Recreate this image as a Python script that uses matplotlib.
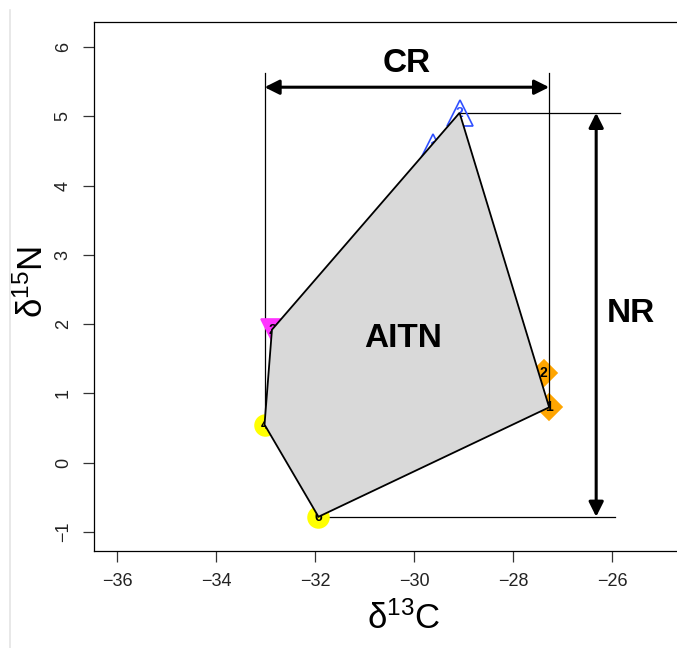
import matplotlib
matplotlib.use("Agg")
import matplotlib.pyplot as plt
from matplotlib.lines import Line2D
from matplotlib.patches import Polygon

plt.rcParams['font.family'] = ['Liberation Sans', 'DejaVu Sans']

# Isotope data for each species (d13C, d15N)
d13c = [-27.27, -27.38, -29.08, -29.62, -32.87, -33.02, -31.93]
d15n = [0.80, 1.30, 5.05, 4.55, 1.92, 0.55, -0.78]
labels = ['1', '2', '2', '1', '2', '4', '6']
markers = ['D', 'D', '^', '^', 'v', 'o', 'o']
facecolors = ['#FFA500', '#FFA500', 'none', 'none', '#FF33FF', '#FFFF00', '#FFFF00']
edgecolors = ['#FFA500', '#FFA500', '#3050FF', '#3050FF', '#FF33FF', '#FFFF00', '#FFFF00']
label_colors = ['black', 'black', '#3050FF', '#3050FF', 'black', 'black', 'black']
sizes = [13, 13, 19, 19, 16, 15, 15]

# Convex hull vertices (index into the point arrays)
hull_idx = [2, 0, 6, 5, 4]

xticks = [-36, -34, -32, -30, -28, -26]
yticks = [-1, 0, 1, 2, 3, 4, 5, 6]

W, H = 677, 648
fig = plt.figure(figsize=(W / 100, H / 100), dpi=100)
left_px, right_px, top_px, bottom_px = 94, 700, 22, 551
ax = fig.add_axes([left_px / W, 1 - bottom_px / H,
                   (right_px - left_px) / W, (bottom_px - top_px) / H])
ax.set_xlim(-36.465, -36.465 + (right_px - left_px) / 49.5)
ax.set_ylim(-1.274, 6.361)

for x, y, m, fc, ec, s in zip(d13c, d15n, markers, facecolors, edgecolors, sizes):
    ax.plot(x, y, marker=m, markersize=s, markerfacecolor=fc,
            markeredgecolor=ec, markeredgewidth=1.2, linestyle='none', zorder=2)
for x, y, t, c in zip(d13c, d15n, labels, label_colors):
    ax.text(x, y, t, ha='center', va='center', fontsize=10, fontweight='bold',
            color=c, zorder=3)

# Total area (convex hull)
hull = [(d13c[i], d15n[i]) for i in hull_idx]
ax.add_patch(Polygon(hull, closed=True, facecolor='#D9D9D9', edgecolor='black',
                     linewidth=1.3, zorder=4))

xmin, xmax = min(d13c), max(d13c)
ymin, ymax = min(d15n), max(d15n)
y_xmin = d15n[d13c.index(xmin)]
y_xmax = d15n[d13c.index(xmax)]
x_ymin = d13c[d15n.index(ymin)]
x_ymax = d13c[d15n.index(ymax)]

# Carbon range (CR)
cr_top, cr_arrow = 5.62, 5.42
ax.plot([xmin, xmin], [y_xmin, cr_top], color='black', lw=0.9, zorder=1)
ax.plot([xmax, xmax], [y_xmax, cr_top], color='black', lw=0.9, zorder=5)
ax.annotate('', xy=(xmax, cr_arrow), xytext=(xmin, cr_arrow),
            arrowprops=dict(arrowstyle='<|-|>', color='black', lw=2.2,
                            mutation_scale=22, shrinkA=0, shrinkB=0))
ax.text((xmin + xmax) / 2, 5.76, 'CR', ha='center', va='center',
        fontsize=24, fontweight='bold')

# Nitrogen range (NR)
nr_x = -26.32
ax.plot([x_ymax, -25.84], [ymax, ymax], color='black', lw=0.9, zorder=1)
ax.plot([x_ymin, -25.94], [ymin, ymin], color='black', lw=0.9, zorder=1)
ax.annotate('', xy=(nr_x, ymax), xytext=(nr_x, ymin),
            arrowprops=dict(arrowstyle='<|-|>', color='black', lw=2.2,
                            mutation_scale=22, shrinkA=0, shrinkB=0))
ax.text(-25.62, 2.15, 'NR', ha='center', va='center', fontsize=24,
        fontweight='bold')

ax.text(-30.22, 1.80, 'AITN', ha='center', va='center', fontsize=24,
        fontweight='bold', zorder=6)

ax.set_xticks(xticks)
ax.set_yticks(yticks)
ax.set_xticklabels([f'\u2212{abs(v)}' if v < 0 else str(v) for v in xticks])
ax.set_yticklabels([f'\u2212{abs(v)}' if v < 0 else str(v) for v in yticks],
                   rotation=90, va='center')
ax.tick_params(direction='out', length=8, width=0.9, labelsize=13, pad=8,
               color='#333333', labelcolor='#222222')
for sp in ax.spines.values():
    sp.set_linewidth(0.9)

fig.text(404 / W, 1 - 619 / H, r'$\mathregular{\delta^{13}C}$', ha='center',
         va='center', fontsize=25)
fig.text(33 / W, 1 - 282 / H, r'$\mathregular{\delta^{15}N}$', ha='center',
         va='center', fontsize=25, rotation=90)

# page border line on the left
fig.add_artist(Line2D([10 / W, 10 / W], [0, 1 - 10 / H], color='#E4E4E4',
                      lw=1.2, transform=fig.transFigure))

fig.savefig('out.png', dpi=100)
